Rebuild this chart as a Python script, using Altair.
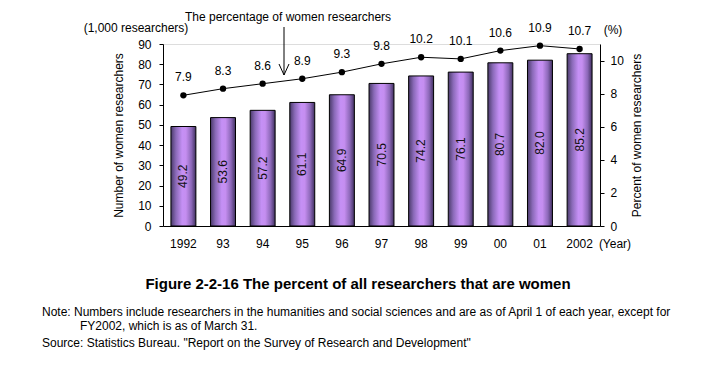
import altair as alt
import pandas as pd

years = ["1992", "93", "94", "95", "96", "97", "98", "99", "00", "01", "2002"]
counts = [49.2, 53.6, 57.2, 61.1, 64.9, 70.5, 74.2, 76.1, 80.7, 82.0, 85.2]
pct = [7.9, 8.3, 8.6, 8.9, 9.3, 9.8, 10.2, 10.1, 10.6, 10.9, 10.7]

left_ticks = [0, 10, 20, 30, 40, 50, 60, 70, 80, 90]
right_ticks = [0, 2, 4, 6, 8, 10]

title_text = "Figure 2-2-16  The percent of all researchers that are women"
note1 = "Note: Numbers include researchers in the humanities and social sciences and are as of April 1 of each year, except for"
note2 = "FY2002, which is as of March 31."
source = "Source: Statistics Bureau. \"Report on the Survey of Research and Development\""

FONT = "Liberation Sans"

df = pd.DataFrame({"year": years, "count": counts, "pct": pct})
df["half"] = df["count"] / 2
df["count_lbl"] = df["count"].map(lambda v: f"{v:.1f}")
df["pct_lbl"] = df["pct"].map(lambda v: f"{v:.1f}")

W, H = 437, 182

xaxis = alt.Axis(labelAngle=0, ticks=False, labelPadding=12, labelFontSize=12,
                 labelFont=FONT, labelColor="black", domainColor="black",
                 labelOverlap=False, title=None)
xscale = alt.Scale(paddingInner=0.37, paddingOuter=0.2)

def X():
    return alt.X("year:N", sort=years, title=None, scale=xscale, axis=xaxis)

laxis = alt.Axis(values=left_ticks, tickCount=10, title="Number of women researchers",
                 grid=False, tickSize=4, labelPadding=8, titlePadding=12,
                 tickColor="black", domainColor="black", labelFontSize=12,
                 labelFont=FONT, labelColor="black", titleFont=FONT,
                 titleFontSize=12, titleFontWeight="normal", titleColor="black",
                 labelOverlap=False, labelFlush=False)
raxis = alt.Axis(orient="right", values=right_ticks, tickCount=6,
                 title="Percent of women researchers", grid=False,
                 tickSize=4, labelPadding=6, titlePadding=8, titleAngle=270,
                 titleBaseline="top", tickColor="black",
                 domainColor="black", labelFontSize=12, labelFont=FONT,
                 labelColor="black", titleFont=FONT, titleFontSize=12,
                 titleFontWeight="normal", titleColor="black",
                 labelOverlap=False, labelFlush=False)

lscale = alt.Scale(domain=[0, 90], nice=False)
rscale = alt.Scale(domain=[0, 11], nice=False)

grad = alt.Gradient(
    gradient="linear", x1=0, x2=1, y1=0, y2=0,
    stops=[alt.GradientStop(color="#4a3a6a", offset=0),
           alt.GradientStop(color="#8a6ab8", offset=0.2),
           alt.GradientStop(color="#c590f5", offset=0.45),
           alt.GradientStop(color="#c58ef0", offset=0.6),
           alt.GradientStop(color="#8c68b8", offset=0.82),
           alt.GradientStop(color="#403060", offset=1)])

base = alt.Chart(df)

bars = base.mark_bar(color=grad, stroke="black", strokeWidth=1).encode(
    x=X(), y=alt.Y("count:Q", scale=lscale, axis=laxis, title="Number of women researchers"))

bar_lbl = base.mark_text(angle=270, fontSize=12, font=FONT, color="#111").encode(
    x=X(), y=alt.Y("half:Q", scale=lscale, axis=laxis, title="Number of women researchers"),
    text="count_lbl:N")

line = base.mark_line(color="black", strokeWidth=1).encode(
    x=X(), y=alt.Y("pct:Q", scale=rscale, axis=raxis, title="Percent of women researchers"))

pts = base.mark_circle(color="black", size=40, opacity=1).encode(
    x=X(), y=alt.Y("pct:Q", scale=rscale, axis=raxis, title="Percent of women researchers"))

pct_lbl = base.mark_text(dy=-18, fontSize=12, font=FONT, color="black").encode(
    x=X(), y=alt.Y("pct:Q", scale=rscale, axis=raxis, title="Percent of women researchers"),
    text="pct_lbl:N")

one = alt.Chart(pd.DataFrame({"a": [0]}))

def txt(s, x, y, align="center", size=12, weight="normal"):
    return one.mark_text(text=s, align=align, baseline="middle", fontSize=size,
                         font=FONT, fontWeight=weight, color="black").encode(
        x=alt.value(x), y=alt.value(y))

def seg(x1, y1, x2, y2):
    return one.mark_rule(color="black", strokeWidth=1).encode(
        x=alt.value(x1), y=alt.value(y1), x2=alt.value(x2), y2=alt.value(y2))

annot = alt.layer(
    txt("(1,000 researchers)", -27, -16),
    txt("(%)", 450, -14),
    txt("(Year)", 452, 200),
    txt("The percentage of women researchers", 125, -27),
    seg(121, -17, 121, 31),
    seg(116, 20, 121, 31),
    seg(126, 20, 121, 31),
    txt(title_text, 195, 240, size=15, weight="bold"),
    txt(note1, -121, 268, align="left"),
    txt(note2, -83, 282, align="left"),
    txt(source, -121, 299, align="left"),
)

chart = alt.layer(
    alt.layer(bars, bar_lbl),
    alt.layer(line, pts, pct_lbl),
    annot,
).resolve_scale(y="independent").properties(
    width=W, height=H,
    autosize=alt.AutoSizeParams(type="none"),
    padding={"left": 155, "top": 36, "right": 105, "bottom": 138},
).configure_view(stroke=None).configure(background="white")

chart.save("out.html", embed_options={"renderer": "svg", "actions": False})
